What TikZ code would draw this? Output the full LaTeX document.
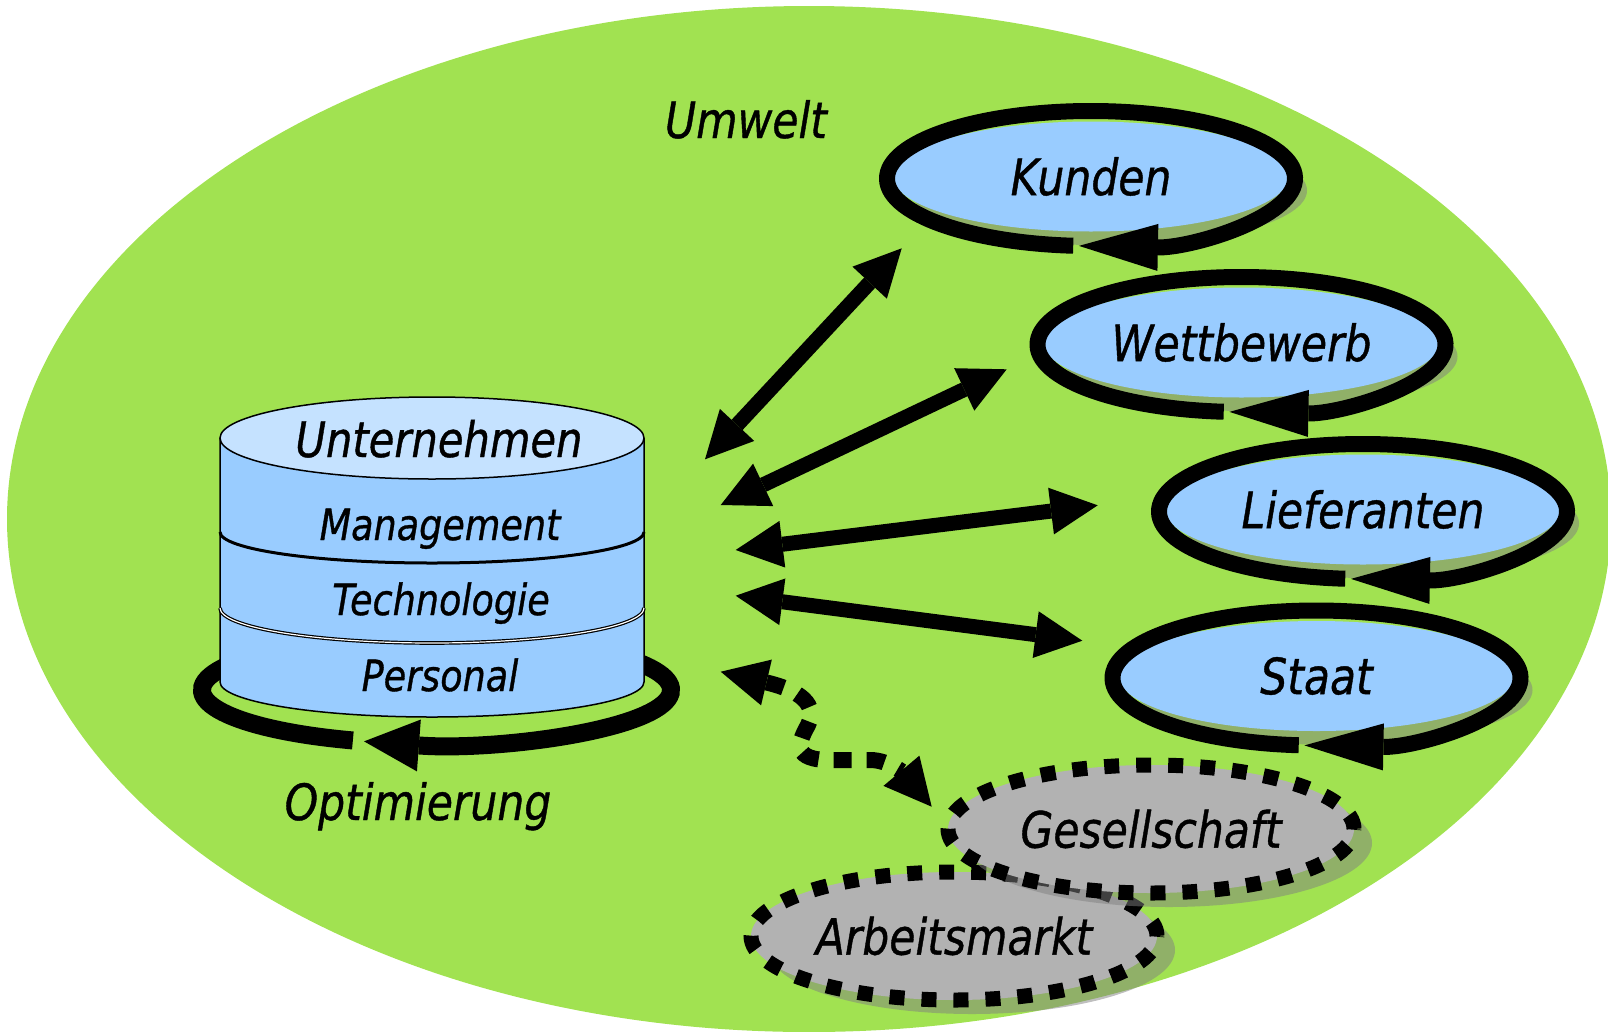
\documentclass[tikz,border=0pt]{standalone}
\usepackage{fontspec}
\usetikzlibrary{arrows.meta,shapes.geometric,shadows}
\newfontfamily\lblfont[FakeStretch=0.85,FakeBold=0.8]{DejaVu Sans}
\definecolor{umweltgreen}{HTML}{A1E251}
\definecolor{partnerblue}{HTML}{99CCFF}
\definecolor{cyltop}{HTML}{C5E2FF}
\definecolor{softgray}{HTML}{B2B2B2}

\tikzset{
  lbl/.style={font=\lblfont\itshape\fontsize{50}{60}\selectfont},
  layertext/.style={font=\lblfont\itshape\fontsize{43}{50}\selectfont, anchor=base},
  shade3d/.style={drop shadow={shadow xshift=18pt, shadow yshift=-14pt, fill=black!50, opacity=.5}},
  partnerbox/.style={ellipse, fill=partnerblue, minimum width=396pt, minimum height=110pt, inner sep=0pt, shade3d, lbl},
  softbox/.style={ellipse, fill=softgray, draw, line width=15pt, dash pattern=on 15pt off 17pt, minimum width=406pt, minimum height=128pt, inner sep=0pt, shade3d, lbl},
  loopline/.style={line width=16pt, -{Triangle[length=79pt,width=47pt,line width=0pt]}},
  twoway/.style={line width=15pt, {Triangle[length=47pt,width=47pt,line width=0pt]}-{Triangle[length=47pt,width=47pt,line width=0pt]}},
  weaklink/.style={twoway, line width=16pt, dash pattern=on 18pt off 15pt},
}

\begin{document}
\begin{tikzpicture}[x=1pt,y=-1pt]
  \useasboundingbox (0,0) rectangle (1608,1031);
  \clip (0,0) rectangle (1608,1031);

  % environment
  \fill[umweltgreen] (809,519) ellipse[x radius=802, y radius=513];
  \node[lbl, anchor=base] (umwelt) at (746,138) {Umwelt};

  % company as a cylinder with its optimisation loop
  \coordinate (cylbase) at (436.5,690);
  \draw[line width=18pt, -{Triangle[length=55pt,width=52pt,line width=0pt]}] (cylbase) ++(110.9:234.5 and 54)
    arc[start angle=110.9, end angle=468, x radius=234.5, y radius=54];
  \fill[partnerblue] (220,438) -- (220,682) arc[start angle=180, end angle=0, x radius=212, y radius=35] -- (644,438) -- cycle;
  \draw[line width=1.5pt] (220,438) -- (220,682) arc[start angle=180, end angle=0, x radius=212, y radius=35] -- (644,438);
  \draw[line width=3pt] (220,532) arc[start angle=180, end angle=0, x radius=212, y radius=31];
  \draw[line width=1.2pt, double=white, double distance=1.2pt] (220,608) arc[start angle=180, end angle=0, x radius=212, y radius=35];
  \draw[line width=1.5pt, fill=cyltop] (432,438) ellipse[x radius=212, y radius=41];
  \node[lbl, font=\lblfont\itshape\fontsize{49}{56}\selectfont, anchor=base] (unternehmen) at (439,457) {Unternehmen};
  \node[layertext] (management) at (440,540) {Management};
  \node[layertext] (technologie) at (441,615) {Technologie};
  \node[layertext] (personal) at (440,691) {Personal};
  \node[lbl, anchor=base] (optimierung) at (418,820) {Optimierung};

  % ends of the relations
  \coordinate (uK) at (705,459.3);   \coordinate (Ku) at (901.7,248.3);
  \coordinate (uW) at (720.7,505);   \coordinate (Wu) at (1006.7,369.3);
  \coordinate (uL) at (735.7,550);   \coordinate (Lu) at (1097.7,505.3);
  \coordinate (uS) at (735.7,595.7); \coordinate (Su) at (1082.3,640.7);
  \coordinate (uG) at (720.7,671.7); \coordinate (Gu) at (931.7,806.7);
  \foreach \a/\b in {uK/Ku,uW/Wu,uL/Lu,uS/Su}
    \draw[twoway] (\a) -- (\b);
  \draw[weaklink] (uG) .. controls (790,688) and (820,700) .. (808,725)
    .. controls (800,740) and (790,758) .. (825,760) -- (870,760)
    .. controls (890,760) and (905,775) .. (Gu);

  % market partners
  \node[partnerbox] (kunden) at (1091,176.5) {Kunden};
  \node[partnerbox] (wettbewerb) at (1241.5,342.5) {Wettbewerb};
  \node[partnerbox] (lieferanten) at (1363,509.5) {Lieferanten};
  \node[partnerbox] (staat) at (1316.5,676) {Staat};
  \foreach \p in {kunden,wettbewerb,lieferanten,staat}
    \draw[loopline] ([yshift=-2pt]\p.center) ++(95:204 and 67.5)
      arc[start angle=95, end angle=453.4, x radius=204, y radius=67.5];

  % weaker influences
  \node[softbox] (arbeitsmarkt) at (954,936) {Arbeitsmarkt};
  \node[softbox] (gesellschaft) at (1151,829) {Gesellschaft};
\end{tikzpicture}
\end{document}
